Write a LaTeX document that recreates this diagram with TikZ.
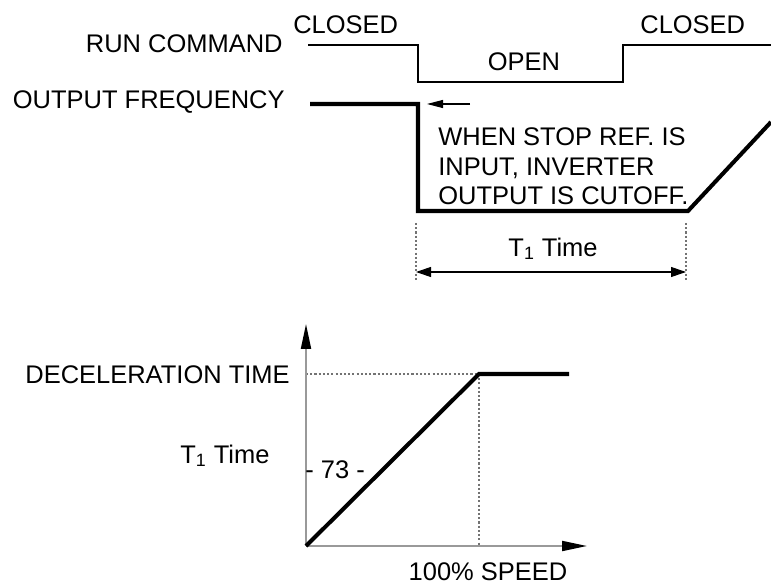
\documentclass[tikz,border=0pt]{standalone}
\usepackage{fontspec}
\setmainfont{Liberation Sans}
\usetikzlibrary{arrows.meta}

\begin{document}
\begin{tikzpicture}[
    x=0.02cm, y=-0.02cm,
    >={Triangle[length=0.3cm,width=0.2cm]},
    every node/.style={font=\fontsize{14.5}{17}\selectfont, inner sep=0pt},
    signal/.style={black, line width=0.6pt},
    freq/.style={black, line width=2.3pt},
    axis/.style={black!40, line width=1.1pt, -{Triangle[length=0.5cm,width=0.2cm,color=black]}},
    guide/.style={black!55, line width=0.7pt, dash pattern=on 1.2pt off 1.2pt},
]

\useasboundingbox (0,0) rectangle (771,584);

% ============================================================
% RUN COMMAND
% ============================================================
\node[anchor=base east] (runlbl) at (283,53) {RUN COMMAND};
\node[anchor=base west] (closedA) at (293,34) {CLOSED};
\node[anchor=base] (open) at (524,71) {OPEN};
\node[anchor=base west] (closedB) at (640,34) {CLOSED};

\coordinate (r0) at (308,45);
\coordinate (r1) at (418,45);
\coordinate (r2) at (418,82);
\coordinate (r3) at (623,82);
\coordinate (r4) at (623,45);
\coordinate (r5) at (771,45);
\draw[signal] (r0) -- (r1) -- (r2) -- (r3) -- (r4) -- (r5);

% ============================================================
% OUTPUT FREQUENCY
% ============================================================
\node[anchor=base east] (freqlbl) at (285,109) {OUTPUT FREQUENCY};

\coordinate (f0) at (310,104);
\coordinate (f1) at (418,104);
\coordinate (f2) at (418,211);
\coordinate (f3) at (688,211);
\coordinate (f4) at (771,122);
\draw[freq] (f0) -- (f1) -- (f2) -- (f3) -- (f4);

% stop note
\coordinate (n0) at (470,104);
\coordinate (n1) at (427,104);
\draw[signal, ->, >={Triangle[length=0.32cm,width=0.16cm]}] (n0) -- (n1);
\node[anchor=north west, align=left] (note) at (438,127)
    {WHEN STOP REF. IS\\INPUT, INVERTER\\OUTPUT IS CUTOFF.};

% T1 time span
\foreach \x/\nm in {416/ta, 686/tb} {
    \coordinate (\nm) at (\x,223);
    \coordinate (\nm e) at (\x,282);
    \draw[guide] (\nm) -- (\nm e);
    \coordinate (\nm m) at (\x,272);
}
\draw[signal, <->] (tam) -- (tbm);
\node[anchor=base] (tspan) at (553,256) {T\textsubscript{1} Time};

% ============================================================
% DECELERATION CHART
% ============================================================
\coordinate (o) at (306,546);
\coordinate (ytip) at (306,324);
\coordinate (xtip) at (587,546);
\coordinate (k) at (479,374);
\coordinate (ky) at (306,374);
\coordinate (kx) at (479,546);
\coordinate (c1) at (569,374);

\draw[guide] (ky) -- (k) -- (kx);
\draw[axis] (o) -- (ytip);
\draw[axis] (o) -- (xtip);
\draw[freq] (o) -- (k) -- (c1);

\node[anchor=base east] (declbl) at (290,383) {DECELERATION TIME};
\node[anchor=base west] (t1lbl) at (180,463) {T\textsubscript{1} Time};
\node[anchor=base west] (page) at (305,478) {- 73 -};
\node[anchor=base] (speed) at (488,580) {100\% SPEED};

\end{tikzpicture}
\end{document}
